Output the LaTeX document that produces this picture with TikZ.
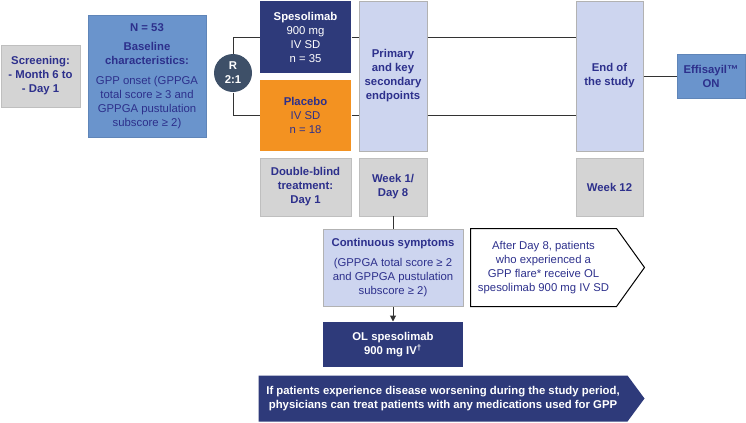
\documentclass[tikz,border=0pt]{standalone}
\usepackage{fontspec}
\setmainfont{Liberation Sans}
\usetikzlibrary{arrows.meta}

\definecolor{txtnavy}{RGB}{45,48,140}
\definecolor{darknavy}{RGB}{46,58,122}
\definecolor{midblue}{RGB}{106,148,204}
\definecolor{lavender}{RGB}{205,213,239}
\definecolor{boxgrey}{RGB}{212,212,212}
\definecolor{placeorange}{RGB}{243,146,33}
\definecolor{rslate}{RGB}{62,80,104}
\definecolor{linegrey}{RGB}{51,51,51}

\tikzset{every picture/.style={line width=0.75pt}}

\begin{document}
\begin{tikzpicture}[x=0.75pt,y=0.75pt,yscale=-1,xscale=1,
	every node/.style={font=\fontsize{8.5}{10.5}\selectfont, text=txtnavy, align=center, inner sep=0.75pt},
	box/.style 2 args={rectangle, minimum width=#1*0.75pt, minimum height=#2*0.75pt},
	greybox/.style={fill=boxgrey, draw=boxgrey!90!black, line width=0.5pt},
	bluebox/.style={fill=midblue, draw=midblue!90!black, line width=0.5pt},
	lavbox/.style={fill=lavender, draw=black!30, line width=0.75pt},
	navybox/.style={fill=darknavy, text=white},
	link/.style={draw=linegrey, line width=0.75pt}]
		\useasboundingbox (0,0) rectangle (746,422);
		
		%Shape: Rectangle [screening]
		\node (screen) [box={79}{62}, greybox] at (40.5,76) {\textbf{Screening:}\\\textbf{- Month 6 to}\\\textbf{- Day 1}};
		%Shape: Rectangle [baseline]
		\node (base) [box={118}{122}, bluebox] at (147,76) {\textbf{N = 53}\\[4pt]\textbf{Baseline}\\\textbf{characteristics:}\\[4.5pt]GPP onset (GPPGA\\total score ≥ 3 and\\GPPGA pustulation\\subscore ≥ 2)};
		%Shape: Circle [randomisation]
		\node (rand) [circle, minimum size=38*0.75pt, fill=rslate, text=white] at (233,73) {\textbf{R}\\\textbf{2:1}};
		%Shape: Rectangle [arms]
		\node (speso) [box={91}{72}, navybox] at (305.5,37) {\textbf{Spesolimab}\\900 mg\\IV SD\\n = 35};
		\node (placebo) [box={91}{71}, fill=placeorange] at (305.5,115.5) {\textbf{Placebo}\\IV SD\\n = 18};
		%Shape: Rectangle [endpoints]
		\node (primary) [box={68}{150}, lavbox] at (393,76) {\textbf{Primary}\\\textbf{and key}\\\textbf{secondary}\\\textbf{endpoints}};
		\node (endstudy) [box={67}{150}, lavbox] at (609.5,76) {\textbf{End of}\\\textbf{the study}};
		\node (effi) [box={68}{44}, bluebox] at (711,76) {\textbf{Effisayil™}\\\textbf{ON}};
		%Shape: Rectangle [timeline]
		\node (dblind) [box={91}{58}, greybox] at (305.5,187) {\textbf{Double-blind}\\\textbf{treatment:}\\\textbf{Day 1}};
		\node (week1) [box={68}{58}, greybox] at (393,187) {\textbf{Week 1/}\\\textbf{Day 8}};
		\node (week12) [box={67}{58}, greybox] at (609.5,187) {\textbf{Week 12}};
		%Shape: Rectangle [rescue]
		\node (cont) [box={140}{77}, lavbox] at (393,267.5) {\textbf{Continuous symptoms}\\[4pt](GPPGA total score ≥ 2\\and GPPGA pustulation\\subscore ≥ 2)};
		\node (olbox) [box={140}{45}, navybox] at (393,344.5) {\textbf{OL spesolimab}\\\textbf{900 mg IV\textsuperscript{†}}};
		%Shape: Pentagon [flare]
		\node (after) [box={145}{77}] at (543.5,267.5) {After Day 8, patients\\who experienced a\\GPP flare* receive OL\\spesolimab 900 mg IV SD};
		\draw [draw=black, line width=0.75pt] (after.north west) -- (after.north east) -- ([xshift=21pt]after.east) -- (after.south east) -- (after.south west) -- cycle ;
		%Shape: Pentagon [banner]
		\node (banner) [box={368}{45}] at (443,398.5) {};
		\fill [darknavy] (banner.north west) -- (banner.north east) -- ([xshift=12.75pt]banner.east) -- (banner.south east) -- (banner.south west) -- cycle ;
		\node (bannertxt) [text=white] at (banner.center) {\textbf{If patients experience disease worsening during the study period,}\\\textbf{physicians can treat patients with any medications used for GPP}};
		
		%Connectors
		\draw [link] (rand.north) |- (speso.west) ;
		\draw [link] (rand.south) |- (placebo.west) ;
		\draw [link] (speso.east) -- (speso.east -| primary.west) ;
		\draw [link] (placebo.east) -- (placebo.east -| primary.west) ;
		\draw [link] (primary.east |- speso.east) -- (endstudy.west |- speso.east) ;
		\draw [link] (primary.east |- placebo.east) -- (endstudy.west |- placebo.east) ;
		\draw [link] (endstudy.east) -- (effi.west) ;
		\draw [link] (week1.south) -- (cont.north) ;
		\draw [link, -{Triangle[length=4.5pt,width=4.5pt]}] (cont.south) -- (olbox.north) ;
		
	\end{tikzpicture}
\end{document}
